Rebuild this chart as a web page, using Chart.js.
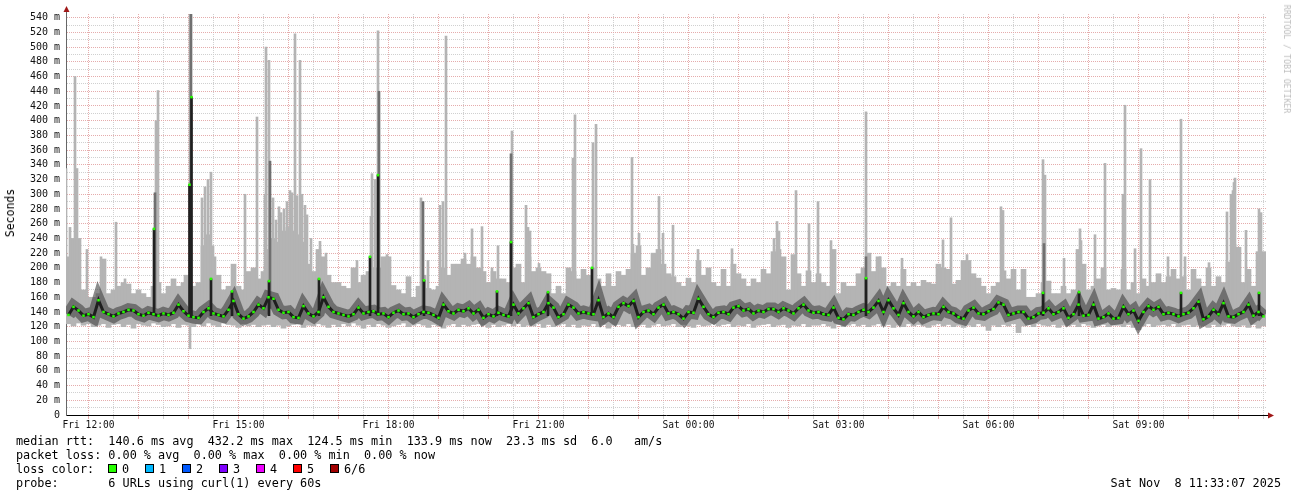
<!DOCTYPE html>
<html><head><meta charset="utf-8">
<script src="https://cdn.jsdelivr.net/npm/chart.js@4.4.1/dist/chart.umd.min.js"></script>
<style>
html,body{margin:0;padding:0;background:#fff;}
#wrap{position:relative;width:1297px;height:497px;overflow:hidden;background:#fff;}
canvas{position:absolute;left:0;top:0;}
.t{position:absolute;font-family:'DejaVu Sans Mono',monospace;font-size:11.8px;line-height:14px;white-space:pre;color:#000;}
.box{position:absolute;width:7px;height:7px;border:1px solid #000;}
</style></head><body>
<div id="wrap">
<canvas id="c" width="1297" height="497"></canvas>
<div class="t" style="left:10px;top:213px;transform:translate(-50%,-50%) rotate(-90deg);font-size:11.5px;">Seconds</div>
<div class="t" style="left:1287px;top:59px;transform:translate(-50%,-50%) rotate(90deg);font-size:8.2px;color:#bdbdbd;">RRDTOOL / TOBI OETIKER</div>
<div id="legend"></div>
</div>
<script>
// ---- data (ms), one column per 6 minutes starting Fri 11:33 ----
const medianRtt = [
136,147,142,135,137,133,156,140,137,134, 138,140,143,142,137,135,139,137,135,138,
136,139,150,141,135,133,132,140,145,138, 136,134,143,155,137,131,134,140,150,145,
160,158,143,139,140,133,132,148,138,134, 140,160,147,140,138,136,134,137,146,138,
140,141,137,138,133,139,142,137,138,133, 137,140,139,136,132,150,141,138,143,141,
145,138,143,132,137,134,139,136,134,150, 138,145,152,133,137,140,152,146,133,137,
150,146,138,140,138,137,156,133,138,133, 147,152,148,155,133,140,142,137,146,150,
138,140,137,131,140,139,158,147,137,133, 139,140,137,146,148,142,144,138,142,140,
144,144,140,145,142,138,145,150,142,139, 140,137,136,146,132,130,137,136,140,143,
140,146,155,140,156,145,136,152,140,134, 140,133,136,138,137,147,140,138,133,131,
142,146,138,137,141,144,153,150,136,138, 140,140,131,133,138,139,145,137,140,145,
132,137,150,135,136,150,131,133,138,131, 132,147,137,142,128,140,148,143,147,137,
139,137,134,137,139,145,154,130,134,143, 137,152,134,133,137,140,150,135,140,134
];
const smokeHi = [
215,240,240,170,160,160,165,212,165,170, 175,180,178,165,170,165,160,175,180,165,
175,185,175,180,190,175,180,230,245,215, 190,170,175,205,175,170,195,200,185,195,
225,240,235,250,255,250,245,235,205,195, 225,215,190,180,180,175,172,200,180,190,
195,200,200,215,215,176,170,165,188,160, 175,190,172,170,175,200,190,205,205,212,
205,215,200,195,180,195,185,185,180,200, 205,180,215,195,200,195,192,165,175,165,
200,195,185,198,190,200,185,175,192,175, 195,190,198,220,230,190,200,220,225,205,
192,188,180,175,186,180,210,190,200,180, 175,198,175,205,192,185,175,185,180,198,
192,222,225,215,170,218,192,175,196,180, 192,180,175,225,165,180,175,175,192,200,
220,195,215,200,175,180,175,198,175,180, 175,183,180,178,205,200,198,178,183,210,
210,192,186,175,165,175,180,196,185,198, 170,198,160,160,165,180,182,165,165,175,
165,170,225,205,170,175,185,200,170,172, 170,198,170,180,165,185,175,180,192,180,
188,198,185,188,170,198,185,175,200,175, 188,180,208,232,228,180,198,175,222,222
];
const smokeLo = [
124,121,125,122,124,120,122,124,119,123, 124,120,123,118,124,122,121,125,123,120,
121,124,119,123,122,120,124,121,125,122, 120,125,123,122,119,124,121,123,120,122,
123,120,122,118,121,123,124,119,122,121, 124,122,119,123,120,124,121,125,122,118,
123,120,124,122,119,121,123,125,120,122, 124,122,119,123,121,118,122,124,120,123,
121,123,124,122,119,123,120,122,124,121, 124,120,122,121,124,119,123,120,122,124,
120,123,119,122,121,124,120,123,118,122, 123,121,124,120,122,123,119,122,124,121,
122,124,120,123,121,119,123,121,122,124, 121,123,124,120,122,121,124,119,122,123,
124,120,122,123,119,122,121,124,120,122, 122,124,121,118,123,120,122,124,121,123,
120,122,124,121,123,119,122,120,124,121, 123,121,119,122,124,121,123,120,122,119,
122,120,124,121,115,122,120,123,121,124, 112,121,123,120,124,122,121,123,119,122,
121,123,120,124,122,119,121,123,120,122, 122,120,123,119,116,121,124,120,122,123,
121,124,120,122,123,120,122,121,119,123, 120,122,124,121,120,122,119,123,118,121
];
// thin light-grey smoke peaks: [hour, top ms]
const spikes = [
[11.55,335],[11.63,255],[11.73,460],[11.77,335],[11.97,225],[12.25,215],[12.55,262],[12.73,185],
[13.35,400],[13.39,441],[13.93,190],[14.03,545],[14.27,295],[14.33,310],[14.39,320],[14.45,330],
[14.49,230],[15.13,300],[15.37,405],[15.53,300],[15.55,500],[15.61,482],[15.69,295],[15.75,265],
[15.81,283],[15.85,275],[15.91,280],[15.97,290],[16.03,305],[16.07,302],[16.13,518],[16.17,298],
[16.23,482],[16.27,300],[16.33,285],[16.37,272],[16.45,240],
[16.63,236],[16.75,220],[17.37,210],[17.51,190],[17.65,270],[17.67,328],[17.73,320],[17.79,522],
[17.97,218],[18.65,295],[18.79,210],[19.03,285],[19.09,290],[19.15,515],[19.53,220],[19.67,253],
[19.87,256],[20.07,200],[20.19,230],[20.47,386],[20.75,285],[20.79,255],[20.83,250],[21.01,206],
[21.69,349],[21.73,408],[22.09,370],[22.15,395],[22.87,350],[22.89,232],[23.01,247],[23.41,297],
[23.49,247],[23.69,258],[24.19,225],[24.87,226],[25.71,240],[25.77,263],[25.81,250],[26.15,305],[26.41,260],
[26.59,290],[26.85,237],[27.55,412],[27.83,215],[28.27,213],[29.09,238],[29.25,268],[29.57,218],
[30.25,283],[30.29,278],[31.09,347],[31.13,326],[31.51,213],[31.83,253],[31.85,237],[32.13,245],
[32.33,342],[32.69,300],[32.73,421],[32.93,226],[33.05,362],[33.23,320],[33.59,215],[33.85,402],
[33.93,215],[34.41,207],[34.77,276],[34.85,300],[34.89,305],[34.91,316],[34.93,322],[35.15,251],
[35.41,280],[35.45,275]
];
// low excursions: [hour, bottom ms]
const dips = [[14.03,90]];
// mid-grey peaks: [hour, top ms]
const darkSpikes = [[13.33,302],[14.05,545],[15.63,345],[17.81,440],[18.69,290],[20.45,355],[27.55,215],[31.11,233]];
// median peaks: [hour, median ms]
const medianSpikes = [[13.31,253],[14.02,313],[14.06,432],[14.45,185],[14.87,168],[15.61,182],[16.61,185],
[17.63,215],[17.79,326],[18.71,183],[20.17,168],[20.45,235],[21.19,167],[22.07,200],[27.55,186],
[31.09,166],[31.81,167],[33.85,166],[35.41,166]];
const timeLabelHours = [12,15,18,21,24,27,30,33];
const timeLabels = ['Fri 12:00','Fri 15:00','Fri 18:00','Fri 21:00','Sat 00:00','Sat 03:00','Sat 06:00','Sat 09:00'];
const lossLabels = ['0','1','2','3','4','5','6/6'];
const lossColors = ['#26ff00','#00b8ff','#0059ff','#7e00ff','#ee00ff','#ff0000','#a10000'];
const legendLines = [
 'median rtt:  140.6 ms avg  432.2 ms max  124.5 ms min  133.9 ms now  23.3 ms sd  6.0   am/s',
 'packet loss: 0.00 % avg  0.00 % max  0.00 % min  0.00 % now',
 'loss color:',
 'probe:       6 URLs using curl(1) every 60s'
];
const stampText = 'Sat Nov  8 11:33:07 2025';

const X_MIN = 11.55, X_MAX = 35.55, COL = 0.1;
const colX = medianRtt.map((_, i) => X_MIN + (i + 0.5) * COL);

// ---- legend (HTML text) ----
const lg = document.getElementById('legend');
legendLines.forEach((s, i) => {
  const d = document.createElement('div'); d.className = 't';
  d.style.left = '16px'; d.style.top = (434 + i * 14) + 'px'; d.textContent = s; lg.appendChild(d);
});
lossLabels.forEach((s, i) => {
  const x = 108 + i * 37;
  const b = document.createElement('div'); b.className = 'box';
  b.style.left = x + 'px'; b.style.top = '464px'; b.style.background = lossColors[i]; lg.appendChild(b);
  const t = document.createElement('div'); t.className = 't';
  t.style.left = (x + 14) + 'px'; t.style.top = '462px'; t.textContent = s; lg.appendChild(t);
});
const st = document.createElement('div'); st.className = 't';
st.style.right = '16px'; st.style.top = '476px'; st.textContent = stampText; lg.appendChild(st);

// ---- chart ----
const RED = 'rgba(228,168,168,0.95)', GREY = 'rgba(205,205,205,0.95)';
const gridHours = [];
for (let h = 12; h <= 35.5; h += 0.5) gridHours.push(h);

const arrows = {
  id: 'arrows',
  afterDraw(chart) {
    const {ctx, chartArea: a} = chart;
    ctx.save();
    ctx.strokeStyle = '#000'; ctx.lineWidth = 1;
    ctx.beginPath(); ctx.moveTo(a.right, a.bottom + 0.5); ctx.lineTo(a.right + 3, a.bottom + 0.5); ctx.stroke();
    ctx.strokeStyle = '#666';
    ctx.beginPath(); ctx.moveTo(a.left + 0.5, a.top); ctx.lineTo(a.left + 0.5, a.top - 3); ctx.stroke();
    ctx.fillStyle = '#a01818';
    ctx.beginPath(); ctx.moveTo(a.left + 0.5, a.top - 8); ctx.lineTo(a.left - 2.5, a.top - 2); ctx.lineTo(a.left + 3.5, a.top - 2); ctx.closePath(); ctx.fill();
    ctx.beginPath(); ctx.moveTo(a.right + 8, a.bottom + 0.5); ctx.lineTo(a.right + 2, a.bottom - 2.5); ctx.lineTo(a.right + 2, a.bottom + 3.5); ctx.closePath(); ctx.fill();
    ctx.restore();
  }
};

const medPts = colX.map((x, i) => ({x, y: medianRtt[i]}));
const tickFont = {family: 'DejaVu Sans Mono', size: 10};
new Chart(document.getElementById('c'), {
  type: 'bar',
  data: {
    datasets: [
      {type: 'bar', data: colX.map((x, i) => ({x, y: [smokeLo[i], smokeHi[i]]})), backgroundColor: '#b4b4b4', barThickness: 5, grouped: false, order: 10},
      {type: 'bar', data: spikes.map(s => ({x: s[0], y: [140, s[1]]})), backgroundColor: '#b4b4b4', barThickness: 2, grouped: false, order: 9},
      {type: 'bar', data: dips.map(s => ({x: s[0], y: [s[1], 130]})), backgroundColor: '#b4b4b4', barThickness: 2, grouped: false, order: 9},
      {type: 'bar', data: darkSpikes.map(s => ({x: s[0], y: [145, s[1]]})), backgroundColor: '#707070', barThickness: 2, grouped: false, order: 8},
      {type: 'line', data: medPts, borderColor: 'rgba(70,70,70,0.62)', borderWidth: 13, pointRadius: 0, tension: 0, order: 7},
      {type: 'line', data: medPts, borderColor: 'rgba(25,25,25,0.95)', borderWidth: 3, pointRadius: 0, tension: 0, order: 6},
      {type: 'bar', data: medianSpikes.map(s => ({x: s[0], y: [135, s[1]]})), backgroundColor: '#202020', barThickness: 2, grouped: false, order: 5},
      {type: 'line', showLine: false, data: medPts.concat(medianSpikes.map(s => ({x: s[0], y: s[1]}))),
        pointStyle: 'rect', pointRadius: 1.8, pointBorderWidth: 0, pointBackgroundColor: '#26ff00', order: 1}
    ]
  },
  plugins: [arrows],
  options: {
    responsive: false, animation: false, events: [],
    layout: {padding: {left: 0, right: 31, top: 14, bottom: 0}},
    plugins: {legend: {display: false}, tooltip: {enabled: false}},
    scales: {
      x: {
        type: 'linear', min: X_MIN, max: X_MAX, offset: false,
        afterBuildTicks: s => { s.ticks = gridHours.map(v => ({value: v})); },
        afterFit: s => { s.height = 82; },
        ticks: {autoSkip: false, maxRotation: 0, padding: 1, color: '#111', font: {family: 'DejaVu Sans Mono', size: 9.6},
          callback: v => { const k = timeLabelHours.indexOf(v); return k >= 0 ? timeLabels[k] : ''; }},
        grid: {offset: false, color: c => (c.tick && Number.isInteger(c.tick.value)) ? RED : GREY, lineWidth: 1, tickLength: 4},
        border: {display: true, color: '#000', width: 1, dash: [1, 1]}
      },
      y: {
        min: 0, max: 545,
        afterFit: s => { s.width = 66; },
        ticks: {stepSize: 10, includeBounds: false, autoSkip: false, padding: 6, color: '#111', font: tickFont,
          callback: v => v % 20 === 0 ? (v === 0 ? '0' : v + ' m') : ''},
        grid: {color: c => (c.tick && c.tick.value % 20 === 0) ? RED : GREY, lineWidth: 1, drawTicks: false},
        border: {display: true, color: '#666', width: 1, dash: [1, 1]}
      }
    }
  }
});
</script>
</body></html>
